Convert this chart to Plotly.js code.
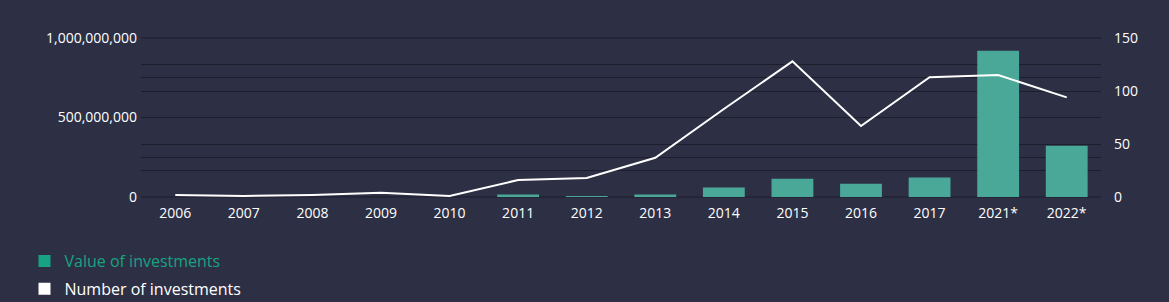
<!DOCTYPE html>
<html>
<head>
<meta charset="utf-8">
<script src="https://cdn.plot.ly/plotly-3.0.1.min.js"></script>
<style>
html,body{margin:0;padding:0;background:#2d2f44;}
#chart{width:1169px;height:302px;}
</style>
</head>
<body>
<div id="chart"></div>
<script>
const years = ['2006','2007','2008','2009','2010','2011','2012','2013','2014','2015','2016','2017','2021*','2022*'];
const investmentValue = [0, 0, 0, 0, 0, 15000000, 6000000, 15000000, 59000000, 115000000, 84000000, 122000000, 920000000, 323000000];
const investmentCount = [2, 1, 2, 4, 1, 16, 18, 37, 83, 128, 67, 113, 115, 94];
const leftTicks = [0, 500000000, 1000000000];
const rightTicks = [0, 50, 100, 150];

const bg = '#2d2f44';
const grid = '#1d1e2b';
const teal = '#4aa898';
const legendTeal = '#17a383';

const traces = [
  {
    type: 'bar', x: years, y: investmentValue, yaxis: 'y',
    marker: {color: teal}, showlegend: false
  },
  {
    type: 'scatter', mode: 'lines', x: years, y: investmentCount, yaxis: 'y2',
    line: {color: '#ffffff', width: 2}, showlegend: false
  },
  {
    type: 'scatter', mode: 'markers', x: [null], y: [null], yaxis: 'y', legendgroup: 'a',
    marker: {symbol: 'square', size: 12, color: legendTeal},
    name: '<span style="color:' + legendTeal + '">Value of investments</span>'
  },
  {
    type: 'scatter', mode: 'markers', x: [null], y: [null], yaxis: 'y2', legendgroup: 'b',
    marker: {symbol: 'square', size: 12, color: '#ffffff'},
    name: 'Number of investments'
  }
];

const edgeLines = [0, 1].map(v => ({
  type: 'line', xref: 'paper', yref: 'paper', x0: 0, x1: 1, y0: v, y1: v,
  line: {color: grid, width: 1}, layer: 'below'
}));

const layout = {
  width: 1169, height: 302,
  paper_bgcolor: bg, plot_bgcolor: bg,
  margin: {l: 141, r: 68, t: 38, b: 105, autoexpand: false},
  font: {family: '"Open Sans", "Noto Sans", sans-serif', color: '#ffffff', size: 14},
  bargap: 0.39,
  shapes: edgeLines,
  xaxis: {
    type: 'category', showgrid: false, zeroline: false, showline: false, automargin: false,
    tickfont: {size: 14, color: '#ffffff'}, ticklabelstandoff: 6
  },
  yaxis: {
    range: [0, 1000000000], tickvals: leftTicks, tickformat: ',',
    showgrid: true, gridcolor: grid, gridwidth: 1, zeroline: false, showline: false, automargin: false,
    minor: {tickvals: [250000000, 750000000], showgrid: true, gridcolor: grid, gridwidth: 1},
    tickfont: {size: 14, color: '#ffffff'}, ticklabelstandoff: 3, fixedrange: true
  },
  yaxis2: {
    overlaying: 'y', side: 'right', range: [0, 150], tickvals: rightTicks,
    showgrid: true, gridcolor: grid, gridwidth: 1, zeroline: false, showline: false, automargin: false,
    minor: {tickvals: [25, 75, 125], showgrid: true, gridcolor: grid, gridwidth: 1},
    tickfont: {size: 14, color: '#ffffff'}, ticklabelstandoff: 12, fixedrange: true
  },
  showlegend: true,
  legend: {
    orientation: 'v', xref: 'container', yref: 'container',
    x: 24.5 / 1169, y: 1 - 244 / 302, xanchor: 'left', yanchor: 'top',
    font: {size: 16, color: '#ffffff'}, bgcolor: 'rgba(0,0,0,0)', tracegroupgap: 4
  }
};

Plotly.newPlot('chart', traces, layout, {displayModeBar: false, staticPlot: true});
</script>
</body>
</html>
